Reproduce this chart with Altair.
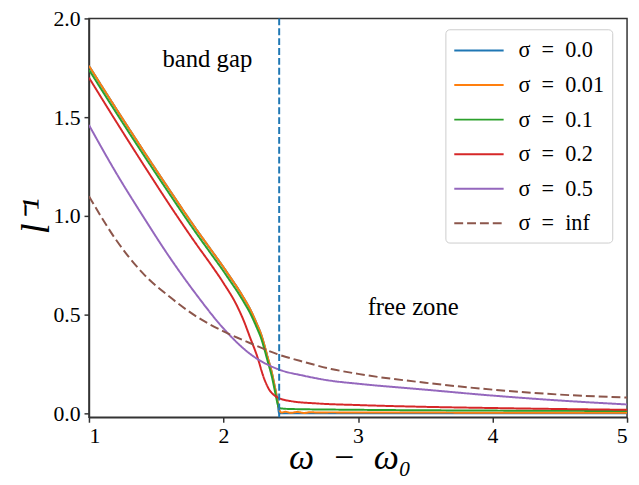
import altair as alt
import pandas as pd

# ---- data ----
series_names = ["σ\u2002=\u20020.0", "σ\u2002=\u20020.01", "σ\u2002=\u20020.1",
                "σ\u2002=\u20020.2", "σ\u2002=\u20020.5", "σ\u2002=\u2002inf"]
series_colors = ["#1f77b4", "#ff7f0e", "#2ca02c", "#d62728", "#9467bd", "#8c564b"]

x_s0 = [1.0, 1.2, 1.4, 1.6, 1.8, 1.9, 2.0, 2.05, 2.1, 2.15, 2.2, 2.25, 2.28, 2.3, 2.33, 2.36, 2.38, 2.40, 2.414, 2.42, 3.0, 4.0, 5.0]
y_s0 = [1.76, 1.545, 1.335, 1.13, 0.93, 0.835, 0.74, 0.69, 0.64, 0.585, 0.525, 0.45, 0.40, 0.355, 0.28, 0.205, 0.14, 0.07, 0.0, 0.0, 0.0, 0.0, 0.0]

x_s001 = [1.0, 1.2, 1.4, 1.6, 1.8, 1.9, 2.0, 2.05, 2.1, 2.15, 2.2, 2.25, 2.28, 2.3, 2.33, 2.36, 2.38, 2.40, 2.41, 2.42, 2.43, 2.46, 2.5, 2.55, 2.6, 2.65, 2.7, 2.8, 3.0, 3.5, 4.0, 5.0]
y_s001 = [1.76, 1.545, 1.335, 1.13, 0.93, 0.835, 0.74, 0.69, 0.64, 0.585, 0.525, 0.45, 0.40, 0.355, 0.28, 0.205, 0.14, 0.07, 0.03, 0.012, 0.004, 0.008, 0.003, 0.007, 0.002, 0.006, 0.004, 0.005, 0.004, 0.004, 0.003, 0.003]

x_s01 = [1.0, 1.2, 1.4, 1.6, 1.8, 1.9, 2.0, 2.05, 2.1, 2.15, 2.2, 2.25, 2.28, 2.3, 2.33, 2.36, 2.38, 2.40, 2.41, 2.43, 2.5, 3.0, 4.0, 5.0]
y_s01 = [1.74, 1.525, 1.315, 1.11, 0.91, 0.815, 0.72, 0.67, 0.62, 0.565, 0.505, 0.43, 0.38, 0.335, 0.26, 0.185, 0.12, 0.055, 0.032, 0.025, 0.022, 0.018, 0.014, 0.012]

x_s02 = [1.0, 1.2, 1.4, 1.6, 1.8, 1.9, 2.0, 2.1, 2.15, 2.2, 2.25, 2.3, 2.34, 2.38, 2.42, 2.5, 2.7, 3.0, 3.5, 4.0, 4.5, 5.0]
y_s02 = [1.70, 1.48, 1.265, 1.055, 0.855, 0.76, 0.66, 0.545, 0.47, 0.38, 0.29, 0.18, 0.12, 0.09, 0.075, 0.062, 0.05, 0.042, 0.033, 0.027, 0.022, 0.018]

x_s05 = [1.0, 1.2, 1.4, 1.6, 1.8, 2.0, 2.2, 2.4, 2.6, 2.8, 3.0, 3.5, 4.0, 4.5, 5.0]
y_s05 = [1.46, 1.22, 1.00, 0.79, 0.60, 0.43, 0.30, 0.225, 0.19, 0.165, 0.15, 0.12, 0.09, 0.065, 0.045]

x_sinf = [1.0, 1.2, 1.4, 1.6, 1.8, 2.0, 2.2, 2.4, 2.6, 2.8, 3.0, 3.5, 4.0, 4.5, 5.0]
y_sinf = [1.10, 0.88, 0.71, 0.59, 0.49, 0.415, 0.355, 0.30, 0.26, 0.225, 0.20, 0.155, 0.12, 0.095, 0.08]

gap_edge = [2.414]
x_ticks = [1, 2, 3, 4, 5]
y_ticks = [0.0, 0.5, 1.0, 1.5, 2.0]
annot_text = ["band gap", "free zone"]
annot_x = [1.88, 3.41]
annot_y = [1.795, 0.54]

xs = [x_s0, x_s001, x_s01, x_s02, x_s05, x_sinf]
ys = [y_s0, y_s001, y_s01, y_s02, y_s05, y_sinf]
rows = []
for i, (name, xx, yy) in enumerate(zip(series_names, xs, ys)):
    for a, b in zip(xx, yy):
        rows.append({"series": name, "order": i, "x": a, "y": b})
df = pd.DataFrame(rows)

SERIF = "Liberation Serif"

xscale = alt.Scale(domain=[1, 5], nice=False, zero=False)
yscale = alt.Scale(domain=[-0.02, 2.0], nice=False, zero=False)

legend_props = dict(
    title=None, orient="none", legendX=361, legendY=11,
    symbolType="M-1,0H3", symbolSize=625, symbolStrokeWidth=2,
    labelFont=SERIF, labelFontSize=22.5, labelColor="black",
    labelOffset=39, rowPadding=10, padding=8,
    fillColor="white", strokeColor="#cccccc", cornerRadius=4,
)

lines = alt.Chart(df).mark_line(strokeWidth=2, clip=True, interpolate="monotone").encode(
    x=alt.X("x:Q", scale=xscale,
            axis=alt.Axis(values=x_ticks, format="d", title="ω\u2002−\u2002ω₀",
                          labelFont=SERIF, labelFontSize=22,
                          titleFontSize=36, titleFontStyle="italic", titleFontWeight="normal",
                          titleFont=SERIF, titleBaseline="alphabetic", titleY=52, titleX=264)),
    y=alt.Y("y:Q", scale=yscale,
            axis=alt.Axis(values=y_ticks, format=".1f", title="l⁻¹",
                          labelFont=SERIF, labelFontSize=22,
                          titleFontSize=40, titleFontStyle="italic", titleFontWeight="normal",
                          titleFont=SERIF, titleBaseline="middle", titleX=-53, titleY=200)),
    color=alt.Color("series:N", sort=series_names,
                    scale=alt.Scale(domain=series_names, range=series_colors),
                    legend=alt.Legend(**legend_props)),
    strokeDash=alt.StrokeDash("series:N", sort=series_names,
                              scale=alt.Scale(domain=series_names,
                                              range=[[1, 0], [1, 0], [1, 0], [1, 0], [1, 0], [9, 4]]),
                              legend=alt.Legend(**legend_props)),
    order="order:Q",
    detail="series:N",
)

vline = alt.Chart(pd.DataFrame({"x": gap_edge})).mark_rule(
    color="#1f77b4", strokeWidth=2, strokeDash=[7, 3]
).encode(x=alt.X("x:Q", scale=xscale))

annot = alt.Chart(pd.DataFrame({"t": annot_text, "x": annot_x, "y": annot_y})).mark_text(
    font=SERIF, fontSize=25, color="black", align="center", baseline="middle"
).encode(x=alt.X("x:Q", scale=xscale), y=alt.Y("y:Q", scale=yscale), text="t:N")

chart = alt.layer(lines, vline, annot).properties(
    width=545, height=404,
    autosize=alt.AutoSizeParams(type="none"),
    padding={"left": 82, "top": 7.5, "right": 4, "bottom": 65},
).configure_view(
    stroke="#333333", strokeWidth=1.5
).configure_axis(
    labelFont=SERIF, labelFontSize=22, labelColor="black", grid=False,
    domainColor="#333333", domainWidth=1.5, tickColor="#333333", tickWidth=1.5, tickSize=5,
    titleColor="black", labelPadding=4
)

chart.save("out.html", embed_options={"renderer": "svg", "actions": False})
